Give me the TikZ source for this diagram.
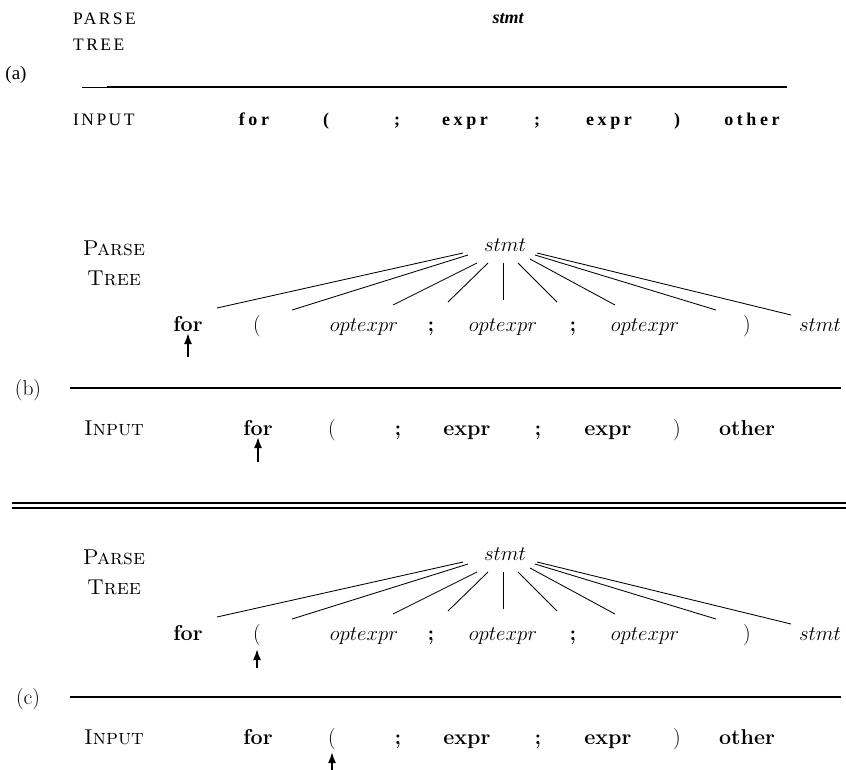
\documentclass[tikz,border=0pt]{standalone}
\usepackage{fontspec}
\newfontfamily\tms{Liberation Serif}
\newfontfamily\tmsls[LetterSpace=14]{Liberation Serif}
\newfontfamily\tmsbls[LetterSpace=20]{Liberation Serif}
\usetikzlibrary{arrows.meta,calc}
\newcommand\treeedge[4]{\draw[tedge] ($(#1root.base)+(#2)$) -- ($(#3.base)+(#4)$);}
\newcommand\parsesection[2]{%
  % labels
  \node[cmtxt] (#1parse) at (114,255) {\textsc{Parse}};
  \node[cmtxt] (#1tree) at (114,285) {\textsc{Tree}};
  \node[cmtxt] (#1lab) at (28,395) {(#2)};
  \node[cmtxt] (#1input) at (114,435) {\textsc{Input}};
  % tree
  \node[cmtxt] (#1root) at (505,251) {$stmt$};
  \node[cmtxt] (#1for)  at (188,331) {\textbf{for}};
  \node[cmtxt] (#1lp)   at (257,331) {(};
  \node[cmtxt] (#1oa)   at (364,331) {$optexpr$};
  \node[cmtxt] (#1sa)   at (431,331) {\textbf{;}};
  \node[cmtxt] (#1ob)   at (503,331) {$optexpr$};
  \node[cmtxt] (#1sb)   at (573,331) {\textbf{;}};
  \node[cmtxt] (#1oc)   at (645,331) {$optexpr$};
  \node[cmtxt] (#1rp)   at (747,331) {)};
  \node[cmtxt] (#1st)   at (820,331) {$stmt$};
  \treeedge{#1}{-42,2}{#1for}{29,-23}
  \treeedge{#1}{-37,4}{#1lp}{35,-21}
  \treeedge{#1}{-28,12}{#1oa}{29,-26}
  \treeedge{#1}{-17,12}{#1sa}{17,-29}
  \treeedge{#1}{-2,12}{#1ob}{0,-31}
  \treeedge{#1}{13,12}{#1sb}{-16,-29}
  \treeedge{#1}{25,8}{#1oc}{-30,-26}
  \treeedge{#1}{30,4}{#1rp}{-31,-21}
  \treeedge{#1}{32,2}{#1st}{-29,-16}
  % separator line
  \coordinate (#1lineL) at (70,388);
  \coordinate (#1lineR) at (841,388);
  \draw[line width=1.1pt] (#1lineL) -- (#1lineR);
  % input
  \node[cmtxt] (#1ifor) at (258,435) {\textbf{for}};
  \node[cmtxt] (#1ilp)  at (332,435) {(};
  \node[cmtxt] (#1isa)  at (398,435) {\textbf{;}};
  \node[cmtxt] (#1iea)  at (467,435) {\textbf{expr}};
  \node[cmtxt] (#1isb)  at (538,435) {\textbf{;}};
  \node[cmtxt] (#1ieb)  at (608,435) {\textbf{expr}};
  \node[cmtxt] (#1irp)  at (677,435) {)};
  \node[cmtxt] (#1iot)  at (747,435) {\textbf{other}};
}
\begin{document}
\begin{tikzpicture}[x=1pt,y=-1pt,
  tA/.style={font={\tmsls\fontsize{17.5}{20}\selectfont}, inner sep=0pt, anchor=base},
  tAb/.style={font={\tmsbls\bfseries\fontsize{18}{20}\selectfont}, inner sep=0pt, anchor=base},
  cmtxt/.style={font={\fontsize{21.5}{24}\selectfont}, inner sep=0pt, anchor=base},
  tedge/.style={line width=0.85pt},
  uparrow/.style={line width=1.8pt,-{Latex[length=11pt,width=8pt]}},
]
\useasboundingbox (0,0) rectangle (846,769);

% ---------- (a) ----------
\node[tA, anchor=base west] (aparse) at (73,24) {PARSE};
\node[tA, anchor=base west] (atree) at (73,50) {TREE};
\node[font={\tms\fontsize{19}{20}\selectfont}, inner sep=0pt, anchor=base] (alab) at (16,79) {(a)};
\node[font={\tms\bfseries\itshape\fontsize{18}{20}\selectfont}, inner sep=0pt, anchor=base] (aroot) at (508,23) {stmt};
\coordinate (adash0) at (82,87);
\coordinate (adash1) at (107,87);
\coordinate (alineR) at (787,87);
\draw[line width=0.8pt] (adash0) -- (adash1);
\draw[line width=2.2pt] (adash1) -- (alineR);
\node[tA, anchor=base west] (ainput) at (73,125) {INPUT};
\node[tAb] (afor) at (254,125) {for};
\node[tAb] (alp)  at (326,125) {(};
\node[tAb] (asa)  at (397,125) {;};
\node[tAb] (aea)  at (465,125) {expr};
\node[tAb] (asb)  at (537,125) {;};
\node[tAb] (aeb)  at (609,125) {expr};
\node[tAb] (arp)  at (677,125) {)};
\node[tAb] (aot)  at (752,125) {other};

% ---------- (b) ----------
\parsesection{b}{b}
\coordinate (bta) at ($(bfor.base)+(0,26)$);
\draw[uparrow] (bta) -- ($(bfor.base)+(0,2)$);
\coordinate (bia) at ($(bifor.base)+(0,27)$);
\draw[uparrow] (bia) -- ($(bifor.base)+(0,2)$);

% ---------- double rule ----------
\coordinate (dl1L) at (12,503);
\coordinate (dl1R) at (846,503);
\coordinate (dl2L) at (12,508);
\coordinate (dl2R) at (846,508);
\draw[line width=1.3pt] (dl1L) -- (dl1R);
\draw[line width=1.1pt] (dl2L) -- (dl2R);

% ---------- (c) ----------
\begin{scope}[yshift=-309pt]
\parsesection{c}{c}
\coordinate (cta) at ($(clp.base)+(0,28)$);
\draw[uparrow] (cta) -- ($(clp.base)+(0,9)$);
\coordinate (cia) at ($(cilp.base)+(0,26)$);
\draw[uparrow] (cia) -- ($(cilp.base)+(0,8)$);
\end{scope}
\end{tikzpicture}
\end{document}
